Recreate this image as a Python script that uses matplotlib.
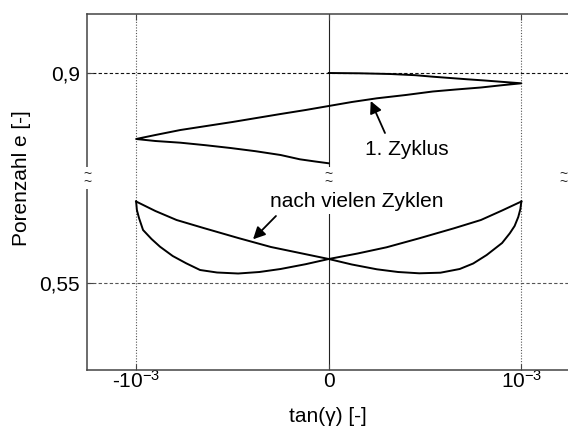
import numpy as np
import matplotlib
matplotlib.use('Agg')
import matplotlib.pyplot as plt

plt.rcParams['font.family'] = ['Liberation Sans', 'DejaVu Sans']
plt.rcParams['mathtext.fontset'] = 'custom'
plt.rcParams['mathtext.rm'] = 'Liberation Sans'
plt.rcParams['mathtext.it'] = 'Liberation Sans:italic'

# shear strain in units of 1e-3, void ratio e
# first cycle: 0 -> +1e-3 -> -1e-3 -> 0
gamma_first = [0.0, 0.16, 0.32, 0.45, 0.54, 0.63, 0.72, 0.81, 0.89, 1.0,
               0.9, 0.79, 0.66, 0.54, 0.4, 0.25, 0.12, 0.0, -0.12, -0.25,
               -0.5, -0.77, -0.9, -1.0,
               -0.9, -0.77, -0.64, -0.51, -0.38, -0.25, -0.15, -0.07, 0.0]
e_first = [0.900, 0.8997, 0.899, 0.8978, 0.8963, 0.895, 0.8937, 0.8925, 0.8913, 0.8897,
           0.8878, 0.8855, 0.8835, 0.8815, 0.878, 0.8747, 0.871, 0.867, 0.863, 0.859,
           0.851, 0.843, 0.838, 0.834,
           0.832, 0.8303, 0.8278, 0.825, 0.8218, 0.818, 0.8137, 0.8115, 0.8097]

# after many cycles: branch from -1e-3 to +1e-3
gamma_up = [-1.0, -0.9, -0.79, -0.65, -0.47, -0.3, -0.15, 0.0, 0.12, 0.25,
            0.36, 0.47, 0.58, 0.68, 0.75, 0.82, 0.86, 0.9, 0.94, 0.965,
            0.984, 0.995, 1.0]
e_up = [0.6315, 0.622, 0.613, 0.605, 0.595, 0.586, 0.58, 0.574, 0.5685, 0.5637,
        0.561, 0.5597, 0.5603, 0.5640, 0.5695, 0.578, 0.584, 0.590, 0.5997, 0.607,
        0.616, 0.624, 0.6315]

# after many cycles: branch from +1e-3 back to -1e-3
gamma_down = [1.0, 0.9, 0.79, 0.65, 0.47, 0.3, 0.15, 0.0, -0.12, -0.25,
              -0.36, -0.47, -0.58, -0.668, -0.74, -0.81, -0.876, -0.92, -0.964,
              -0.985, -0.996, -1.0]
e_down = [0.6315, 0.6225, 0.613, 0.6047, 0.5947, 0.5857, 0.5795, 0.574, 0.5688, 0.564,
          0.561, 0.5595, 0.5605, 0.563, 0.5697, 0.577, 0.5863, 0.594, 0.603,
          0.615, 0.623, 0.6315]

x_ticks = [-1e-3, 0.0, 1e-3]
x_ticklabels = [r'-10$^{-3}$', '0', r'10$^{-3}$']

fig = plt.figure(figsize=(5.68, 4.34), dpi=100)
W, H = 568.0, 434.0
left, right = 87 / W, 569.5 / W
ax_top = fig.add_axes([left, (H - 178) / H, right - left, (178 - 14) / H])
ax_bot = fig.add_axes([left, (H - 370) / H, right - left, (370 - 178) / H])

xlim = (-1.255e-3, 1.25e-3)
spine_col = '#444444'

for ax in (ax_top, ax_bot):
    ax.set_xlim(*xlim)
    ax.axvline(0.0, color='#222222', lw=0.8, zorder=1)
    for xv in (-1e-3, 1e-3):
        ax.axvline(xv, color='#555555', lw=0.8, ls=(0, (1, 1.5)), zorder=1)
    for sp in ax.spines.values():
        sp.set_color(spine_col)
        sp.set_linewidth(1.1)
    ax.set_xticks(x_ticks)
    ax.tick_params(direction='in', length=4, color=spine_col, labelsize=15)

ax_top.set_ylim(0.795, 0.959)
ax_bot.set_ylim(0.463, 0.655)
ax_top.spines['bottom'].set_visible(False)
ax_bot.spines['top'].set_visible(False)

ax_top.axhline(0.9, color='#111111', lw=0.8, ls=(0, (3, 2)), zorder=1)
ax_bot.axhline(0.55, color='#555555', lw=0.8, ls=(0, (3, 2)), zorder=1)

ax_top.set_yticks([0.9])
ax_top.set_yticklabels(['0,9'])
ax_bot.set_yticks([0.55])
ax_bot.set_yticklabels(['0,55'])
ax_top.tick_params(axis='x', bottom=False, top=True, labelbottom=False)
ax_bot.tick_params(axis='x', bottom=True, top=False, pad=8)
ax_top.tick_params(axis='y', pad=5)
ax_bot.tick_params(axis='y', pad=5)
ax_bot.set_xticklabels(x_ticklabels)
plt.setp(ax_bot.get_xticklabels(), va='center')

# the curves
ax_top.plot(np.array(gamma_first) * 1e-3, e_first, color='black', lw=1.4,
            zorder=3, solid_joinstyle='round')
ax_bot.plot(np.array(gamma_up) * 1e-3, e_up, color='black', lw=1.4, zorder=3,
            solid_joinstyle='round')
ax_bot.plot(np.array(gamma_down) * 1e-3, e_down, color='black', lw=1.4, zorder=3,
            solid_joinstyle='round')

# annotations
arrow = dict(arrowstyle='-|>', color='black', lw=1.3, mutation_scale=18,
             shrinkA=0, shrinkB=0)
ax_top.annotate('', xy=(0.218e-3, 0.872), xytext=(0.292e-3, 0.840),
                arrowprops=arrow, zorder=5)
ax_top.text(0.405e-3, 0.824, '1. Zyklus', fontsize=15, ha='center', va='center')

ax_bot.text(0.147e-3, 0.6313, 'nach vielen Zyklen', fontsize=15, ha='center',
            va='center', zorder=4,
            bbox=dict(facecolor='white', edgecolor='none', pad=2))
ax_bot.annotate('', xy=(-0.393e-3, 0.5937), xytext=(-0.274e-3, 0.617),
                arrowprops=arrow, zorder=5)

# break marks on the axis
for xb in (xlim[0], 0.0, xlim[1] - 0.03e-3):
    ax_bot.text(xb, 1.0, '~\n~', transform=ax_bot.get_xaxis_transform(),
                fontsize=10, ha='center', va='center', linespacing=0.45,
                color='#222222', zorder=6, clip_on=False,
                bbox=dict(facecolor='white', edgecolor='none', pad=0.3))

ax_bot.set_xlabel('tan(\u03b3) [-]', fontsize=15, labelpad=11)
fig.text(22 / W, 1 - 178 / H, 'Porenzahl e [-]', fontsize=15, rotation=90,
         ha='center', va='center')

fig.savefig('out.png', dpi=100)
